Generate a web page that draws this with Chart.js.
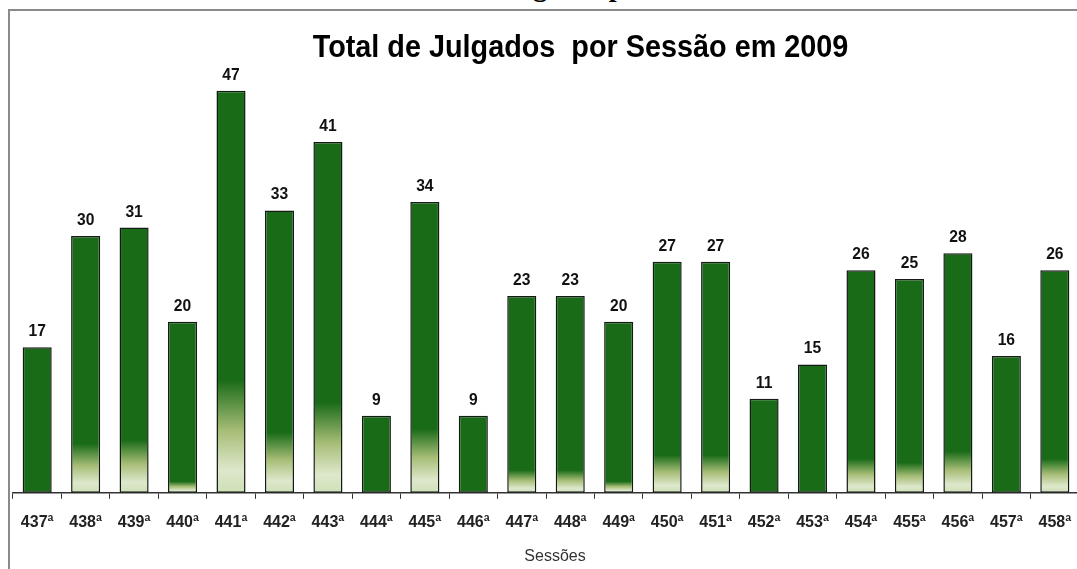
<!DOCTYPE html>
<html>
<head>
<meta charset="utf-8">
<script src="https://cdn.jsdelivr.net/npm/chart.js@4/dist/chart.umd.min.js"></script>
<style>
  html, body { margin: 0; padding: 0; background: #fff; overflow: hidden; width: 1077px; height: 569px; }
  #cut { position: absolute; left: 0; top: -29px; width: 1077px; text-align: center;
         font: bold 28px 'Liberation Serif', 'Times New Roman', serif; color: #000; padding-left: 154px; box-sizing: border-box; }
  #frame { position: absolute; left: 8px; top: 9px; width: 1100px; height: 600px;
           border-left: 2px solid #8a8a8a; border-top: 2px solid #8a8a8a; background: #fff; }
  #wrap { position: absolute; left: 7px; top: 11px; width: 1078px; height: 558px; }
</style>
</head>
<body>
<div id="cut">Julgados por Sessão</div>
<div id="frame"></div>
<div id="wrap"><canvas id="sessoesChart"></canvas></div>
<script>
/*global Chart, document*/
'use strict';

// ------------------------------------------------------- //
// Dados
// ------------------------------------------------------- //
var sessoes = ['437ª', '438ª', '439ª', '440ª', '441ª', '442ª', '443ª', '444ª', '445ª', '446ª', '447ª',
               '448ª', '449ª', '450ª', '451ª', '452ª', '453ª', '454ª', '455ª', '456ª', '457ª', '458ª'];
var julgados = [17, 30, 31, 20, 47, 33, 41, 9, 34, 9, 23, 23, 20, 27, 27, 11, 15, 26, 25, 28, 16, 26];
var titulo = 'Total de Julgados  por Sessão em 2009';
var tituloEixo = 'Sessões';

var VERDE = '#196b18';
var FONTE = '"Liberation Sans", Arial, sans-serif';

// degradê claro na base da barra, maior quanto maior o valor
function fundoBarra(ctx) {
    var chart = ctx.chart;
    if (!chart.chartArea || ctx.raw === undefined) {
        return VERDE;
    }
    var y = chart.scales.y;
    var base = y.getPixelForValue(0);
    var topo = y.getPixelForValue(Math.max(0, (ctx.raw - 17) * 0.44));
    if (base - topo < 3) {
        return VERDE;
    }
    var g = chart.ctx.createLinearGradient(0, base, 0, topo);
    g.addColorStop(0, '#cfe0b6');
    g.addColorStop(0.2, '#dde8cc');
    g.addColorStop(0.55, '#a7bd76');
    g.addColorStop(1, VERDE);
    return g;
}

// texto um pouco estreitado, como no original
function textoEstreito(c, txt, x, y, escala) {
    c.save();
    c.translate(x, y);
    c.scale(escala, 1);
    c.fillText(txt, 0, 0);
    c.restore();
}

var rotulos = {
    id: 'rotulos',
    afterDatasetsDraw: function (chart) {
        var c = chart.ctx;
        var meta = chart.getDatasetMeta(0);
        c.save();
        c.font = 'bold 17px ' + FONTE;
        c.fillStyle = '#111';
        c.textAlign = 'center';
        c.textBaseline = 'alphabetic';
        meta.data.forEach(function (bar, i) {
            textoEstreito(c, String(julgados[i]), bar.x, bar.y - 11, 0.92);
        });
        c.restore();
    },
    afterDraw: function (chart) {
        var c = chart.ctx;
        c.save();
        c.fillStyle = '#000';
        c.textAlign = 'center';
        c.textBaseline = 'alphabetic';
        c.font = 'bold 32px ' + FONTE;
        textoEstreito(c, titulo, 573.5, 46, 0.9);
        c.font = '16px ' + FONTE;
        c.fillStyle = '#333';
        c.textBaseline = 'middle';
        c.fillText(tituloEixo, 548, 546);
        c.restore();
    }
};

var graficoSessoes = new Chart(document.getElementById('sessoesChart'), {
    type: 'bar',
    plugins: [rotulos],
    data: {
        labels: sessoes,
        datasets: [{
            data: julgados,
            backgroundColor: fundoBarra,
            borderColor: '#141a14',
            borderWidth: 1.5,
            borderSkipped: false,
            barPercentage: 0.6,
            categoryPercentage: 1
        }]
    },
    options: {
        responsive: true,
        maintainAspectRatio: false,
        animation: false,
        layout: { padding: { top: 54, left: 0, right: 0, bottom: 23 } },
        plugins: {
            legend: { display: false },
            title: { display: false },
            tooltip: { enabled: false }
        },
        scales: {
            y: {
                display: false,
                min: 0,
                max: 50
            },
            x: {
                offset: true,
                grid: {
                    offset: true,
                    drawOnChartArea: false,
                    drawTicks: true,
                    tickLength: 6,
                    color: '#333',
                    lineWidth: 1
                },
                border: { display: true, color: '#333', width: 1.5 },
                ticks: {
                    padding: 14,
                    color: '#222',
                    font: { family: FONTE, size: 16, weight: 'bold' }
                }
            }
        }
    }
});
</script>
</body>
</html>
